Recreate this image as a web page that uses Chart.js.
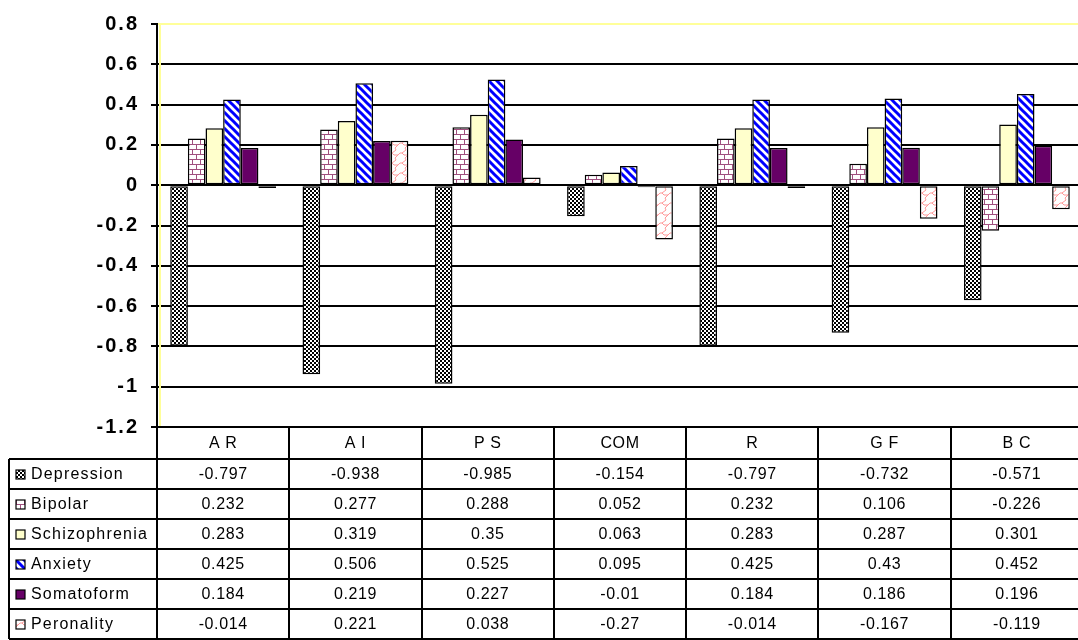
<!DOCTYPE html>
<html>
<head>
<meta charset="utf-8">
<script src="https://cdn.jsdelivr.net/npm/chart.js@4.4.0/dist/chart.umd.min.js"></script>
<style>
  html, body { margin: 0; padding: 0; background: #ffffff; overflow: hidden; }
  #wrap { width: 1078px; height: 640px; position: relative; overflow: hidden; }
  canvas { display: block; }
</style>
</head>
<body>
<div id="wrap"><canvas id="c" width="1084" height="640"></canvas></div>
<script>
// Categories and series values
const categories = ['A R', 'A I', 'P S', 'COM', 'R', 'G F', 'B C'];
const depression    = [-0.797, -0.938, -0.985, -0.154, -0.797, -0.732, -0.571];
const bipolar       = [0.232, 0.277, 0.288, 0.052, 0.232, 0.106, -0.226];
const schizophrenia = [0.283, 0.319, 0.35, 0.063, 0.283, 0.287, 0.301];
const anxiety       = [0.425, 0.506, 0.525, 0.095, 0.425, 0.43, 0.452];
const somatoform    = [0.184, 0.219, 0.227, -0.01, 0.184, 0.186, 0.196];
const peronality    = [-0.014, 0.221, 0.038, -0.27, -0.014, -0.167, -0.119];
const seriesNames   = ['Depression', 'Bipolar', 'Schizophrenia', 'Anxiety', 'Somatoform', 'Peronality'];
const yMin = -1.2, yMax = 0.8, yStep = 0.2;

const FONT = '"Liberation Sans", Arial, sans-serif';

// ---- fill patterns ----
function tile(w, h, paint) {
  const cv = document.createElement('canvas');
  cv.width = w; cv.height = h;
  const g = cv.getContext('2d');
  g.fillStyle = '#ffffff';
  g.fillRect(0, 0, w, h);
  paint(g);
  return cv;
}
const checkerTile = tile(4, 4, g => {
  g.fillStyle = '#000000';
  g.fillRect(0, 0, 2, 2);
  g.fillRect(2, 2, 2, 2);
});
const brickTile = tile(8, 10, g => {
  g.fillStyle = '#a0507f';
  g.fillRect(0, 4, 8, 1);
  g.fillRect(0, 9, 8, 1);
  g.fillRect(0, 0, 1, 4);
  g.fillRect(4, 5, 1, 4);
});
const stripeTile = tile(8, 8, g => {
  g.strokeStyle = '#0000ff';
  g.lineWidth = 3;
  g.lineCap = 'square';
  for (const k of [-8, 0, 8]) {
    g.beginPath();
    g.moveTo(k, 0);
    g.lineTo(k + 8, 8);
    g.stroke();
  }
});
const scaleTile = tile(10, 10, g => {
  g.strokeStyle = '#ff9999';
  g.lineWidth = 1;
  g.beginPath();
  g.moveTo(6, 0);
  g.lineTo(2, 3);
  g.lineTo(4, 5);
  g.lineTo(8, 5);
  g.lineTo(5, 8);
  g.lineTo(6, 10);
  g.moveTo(8, 5);
  g.lineTo(10, 3);
  g.moveTo(0, 3);
  g.lineTo(2, 3);
  g.stroke();
});

const ctx = document.getElementById('c').getContext('2d');
const fills = [
  ctx.createPattern(checkerTile, 'repeat'),
  ctx.createPattern(brickTile, 'repeat'),
  '#ffffcc',
  ctx.createPattern(stripeTile, 'repeat'),
  '#660066',
  ctx.createPattern(scaleTile, 'repeat')
];
const seriesValues = [depression, bipolar, schizophrenia, anxiety, somatoform, peronality];

// ---- wider tracking for the axis labels ----
const axisTracking = {
  id: 'axisTracking',
  beforeDraw(chart) { chart.ctx.letterSpacing = '2px'; },
  beforeDatasetsDraw(chart) { chart.ctx.letterSpacing = '0px'; }
};

// ---- data table under the plot ----
const dataTable = {
  id: 'dataTable',
  afterDraw(chart) {
    const c = chart.ctx;
    const xs = chart.scales.x;
    const area = chart.chartArea;
    const step = xs.getPixelForValue(1) - xs.getPixelForValue(0);
    const left = area.left;
    const right = xs.getPixelForValue(categories.length - 1) + step / 2;
    const top = area.bottom;
    const headH = 32, rowH = 30;
    const labelLeft = 9;
    const bottom = top + headH + rowH * seriesNames.length;

    c.save();
    // plot-area frame accent on the left edge
    c.strokeStyle = '#ffff99';
    c.lineWidth = 2;
    c.beginPath();
    c.moveTo(left + 3, area.top);
    c.lineTo(left + 3, area.bottom);
    c.stroke();

    c.strokeStyle = '#000000';
    c.lineWidth = 2;

    // horizontal rules
    c.beginPath();
    c.moveTo(left, top); c.lineTo(right, top);
    for (let r = 0; r <= seriesNames.length; r++) {
      const y = top + headH + r * rowH;
      c.moveTo(labelLeft, y); c.lineTo(right, y);
    }
    // vertical rules
    c.moveTo(labelLeft, top + headH); c.lineTo(labelLeft, bottom);
    for (let i = 0; i <= categories.length; i++) {
      const x = Math.round(left + i * step);
      c.moveTo(x, top); c.lineTo(x, bottom);
    }
    c.stroke();

    c.fillStyle = '#000000';
    c.font = '16px ' + FONT;
    c.letterSpacing = '0.6px';
    c.textBaseline = 'middle';
    c.textAlign = 'center';
    categories.forEach((cat, i) => {
      c.fillText(cat, xs.getPixelForValue(i), top + headH / 2 + 1);
    });

    seriesNames.forEach((name, r) => {
      const yMid = top + headH + r * rowH + rowH / 2;
      // legend key
      const kx = 16, ky = Math.round(yMid - 4);
      c.fillStyle = fills[r];
      c.fillRect(kx, ky, 9, 9);
      c.lineWidth = 1.2;
      c.strokeRect(kx, ky, 9, 9);
      c.fillStyle = '#000000';
      c.textAlign = 'left';
      c.letterSpacing = '1.2px';
      c.fillText(name, 31, yMid + 1);
      c.letterSpacing = '0.6px';
      c.textAlign = 'center';
      seriesValues[r].forEach((v, i) => {
        c.fillText(String(v), xs.getPixelForValue(i), yMid + 1);
      });
    });
    c.restore();
  }
};

new Chart(ctx, {
  type: 'bar',
  data: {
    labels: categories,
    datasets: seriesNames.map((name, i) => ({
      label: name,
      data: seriesValues[i],
      backgroundColor: fills[i],
      borderColor: '#000000',
      borderWidth: 1.5,
      borderSkipped: false,
      categoryPercentage: 0.8,
      barPercentage: 1.0
    }))
  },
  options: {
    responsive: false,
    animation: false,
    devicePixelRatio: 1,
    layout: { padding: { left: 0, top: 21, right: 1, bottom: 213 } },
    plugins: {
      legend: { display: false },
      tooltip: { enabled: false },
      title: { display: false }
    },
    scales: {
      x: {
        display: false,
        grid: { display: false }
      },
      y: {
        min: yMin,
        max: yMax,
        afterFit(scale) { scale.width = 157; },
        afterBuildTicks(scale) {
          const t = [];
          for (let k = 0; k <= Math.round((yMax - yMin) / yStep); k++) {
            t.push({ value: +(yMin + k * yStep).toFixed(1) });
          }
          scale.ticks = t;
        },
        ticks: {
          padding: 12,
          color: '#000000',
          font: { family: FONT, size: 20, weight: 'bold' },
          callback: v => String(+v.toFixed(1))
        },
        grid: {
          color: c => (c.tick && Math.abs(c.tick.value - yMax) < 1e-6) ? '#ffff99' : '#000000',
          lineWidth: 2,
          tickColor: '#000000',
          tickLength: 6,
          drawTicks: true
        },
        border: { display: true, color: '#000000', width: 2 }
      }
    }
  },
  plugins: [axisTracking, dataTable]
});
</script>
</body>
</html>
